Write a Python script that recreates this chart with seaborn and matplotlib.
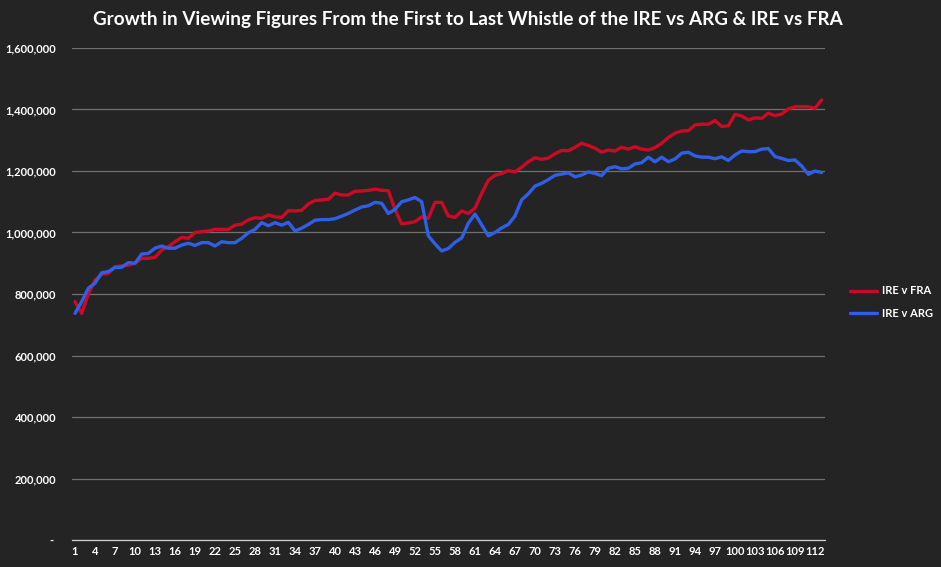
import matplotlib
matplotlib.use("Agg")
import matplotlib.pyplot as plt
from matplotlib.ticker import FixedLocator, FuncFormatter
import seaborn as sns
import pandas as pd
import numpy as np

minutes = list(range(1, 114))

ire_v_fra = [
    775, 737, 800, 845, 864, 867, 889, 891, 894, 900,
    916, 916, 919, 943, 954, 970, 984, 981, 1000, 1003,
    1005, 1010, 1010, 1010, 1024, 1027, 1041, 1048, 1046, 1057,
    1051, 1049, 1071, 1070, 1072, 1093, 1104, 1106, 1108, 1128,
    1122, 1122, 1134, 1135, 1137, 1141, 1137, 1136, 1075, 1028,
    1031, 1035, 1051, 1046, 1098, 1098, 1054, 1049, 1070, 1062,
    1079, 1127, 1170, 1186, 1192, 1201, 1197, 1212, 1230, 1243,
    1238, 1242, 1256, 1267, 1266, 1277, 1290, 1283, 1274, 1261,
    1268, 1265, 1277, 1271, 1279, 1271, 1268, 1276, 1290, 1309,
    1323, 1330, 1331, 1350, 1352, 1352, 1364, 1345, 1347, 1384,
    1379, 1366, 1373, 1371, 1388, 1380, 1385, 1402, 1409, 1409,
    1409, 1404, 1431,
]

ire_v_arg = [
    737, 775, 819, 835, 869, 873, 886, 887, 902, 900,
    930, 932, 949, 956, 949, 949, 959, 965, 958, 967,
    967, 956, 970, 967, 967, 981, 999, 1010, 1032, 1022,
    1032, 1024, 1033, 1005, 1014, 1026, 1040, 1042, 1042, 1045,
    1053, 1062, 1073, 1083, 1087, 1098, 1095, 1062, 1075, 1100,
    1106, 1114, 1100, 989, 963, 940, 948, 968, 982, 1030,
    1060, 1025, 989, 1000, 1015, 1026, 1054, 1106, 1126, 1151,
    1160, 1172, 1186, 1190, 1194, 1181, 1187, 1197, 1192, 1185,
    1209, 1214, 1207, 1209, 1223, 1227, 1245, 1230, 1245, 1230,
    1239, 1258, 1261, 1249, 1245, 1245, 1240, 1246, 1234, 1252,
    1265, 1263, 1263, 1271, 1273, 1247, 1241, 1234, 1236, 1216,
    1189, 1200, 1195,
]

series_names = ["IRE v FRA", "IRE v ARG"]
series_colors = ["#cc0a24", "#2f5fe6"]
x_tick_labels = [str(m) for m in range(1, 113, 3)]
y_ticks = [0, 200000, 400000, 600000, 800000, 1000000, 1200000, 1400000, 1600000]
title = "Growth in Viewing Figures From the First to Last Whistle of the IRE vs ARG & IRE vs FRA"

df = pd.concat([
    pd.DataFrame({"minute": minutes, "viewers": np.array(ire_v_fra) * 1000, "match": series_names[0]}),
    pd.DataFrame({"minute": minutes, "viewers": np.array(ire_v_arg) * 1000, "match": series_names[1]}),
])

BG = "#242424"
sns.set_theme(style="dark")
plt.rcParams["font.family"] = ["Lato", "DejaVu Sans"]

fig = plt.figure(figsize=(9.41, 5.67), dpi=100, facecolor=BG)
ax = fig.add_axes([71.67 / 941, 1 - 540 / 567, (825 - 71.67) / 941, (540 - 48) / 567])
ax.set_facecolor(BG)

sns.lineplot(data=df, x="minute", y="viewers", hue="match", hue_order=series_names,
             palette=series_colors, linewidth=2.4, ax=ax, legend=True, sort=False)

ax.set_xlim(0.5, 113.5)
ax.set_ylim(0, 1600000)
ax.set_xlabel("")
ax.set_ylabel("")

ax.yaxis.set_major_locator(FixedLocator(y_ticks))
ax.yaxis.set_major_formatter(FuncFormatter(lambda v, p: "- " if v == 0 else f"{int(v):,}"))
ax.grid(axis="y", color="#707070", linewidth=0.9)
ax.grid(axis="x", visible=False)
ax.set_axisbelow(True)

ax.set_xticks(list(range(1, 113, 3)))
ax.set_xticklabels(x_tick_labels)
ax.set_xticks(np.arange(0.5, 114, 1.0), minor=True)

ax.tick_params(axis="y", length=0, pad=11, labelsize=8, labelcolor="white")
ax.tick_params(axis="x", which="major", length=0, pad=4, labelsize=8, labelcolor="white")
ax.tick_params(axis="x", which="minor", length=2.5, width=0.7, color="#d0d0d0", direction="out")
for lab in ax.get_xticklabels() + ax.get_yticklabels():
    lab.set_fontweight("bold")

for s in ["left", "right", "top"]:
    ax.spines[s].set_visible(False)
ax.spines["bottom"].set_color("#d0d0d0")
ax.spines["bottom"].set_linewidth(0.9)

handles, labels = ax.get_legend_handles_labels()
leg = ax.legend(handles, labels, loc="center left", bbox_to_anchor=(850 / 941, 1 - 302 / 567),
                bbox_transform=fig.transFigure, frameon=False, fontsize=8,
                handlelength=2.4, handletextpad=0.5, labelspacing=1.0, borderpad=0, borderaxespad=0)
for t in leg.get_texts():
    t.set_color("white")
    t.set_fontweight("bold")
for l in leg.get_lines():
    l.set_linewidth(2.4)

fig.text(0.497, 1 - 20 / 567, title, ha="center", va="center", color="white",
         fontsize=13.6, fontweight="bold")

fig.savefig("out.png", dpi=100, facecolor=BG)
